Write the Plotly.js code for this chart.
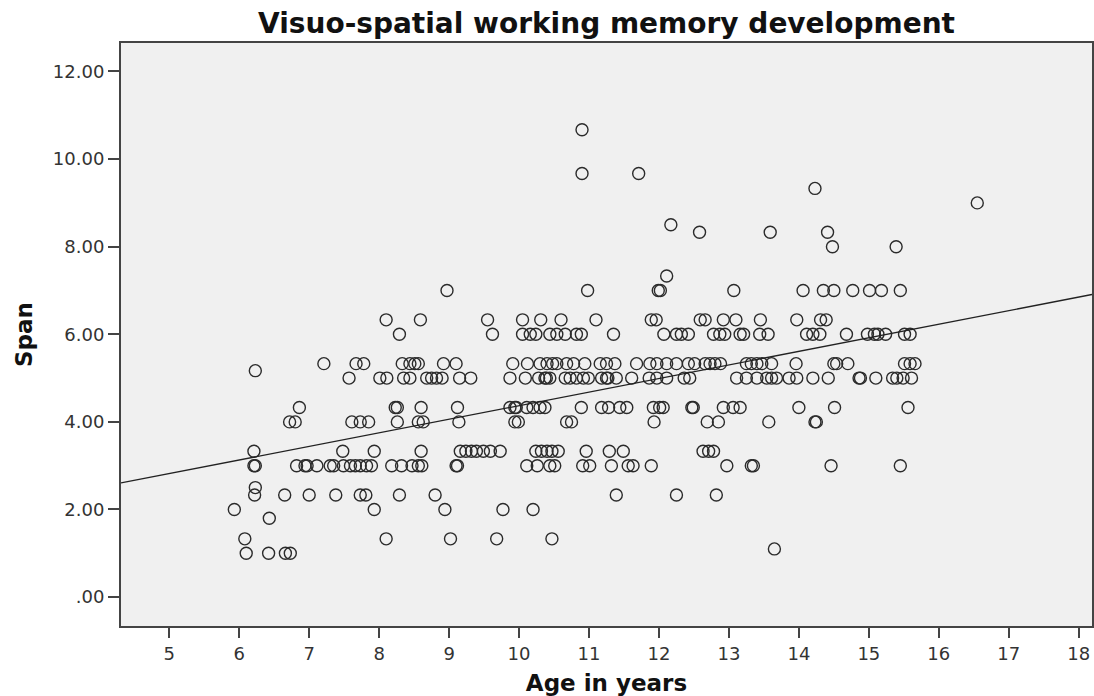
<!DOCTYPE html>
<html>
<head>
<meta charset="utf-8">
<script src="https://cdn.plot.ly/plotly-3.0.1.min.js"></script>
<style>
  html, body { margin: 0; padding: 0; background: #ffffff; }
  #chart { width: 1094px; height: 696px; }
</style>
</head>
<body>
<div id="chart"></div>
<script>
// Span levels (y) and the ages (x) of the children observed at each level
const spanLevels = [10.67, 9.67, 9.33, 9.00, 8.50, 8.33, 8.00, 7.33, 7.00, 6.33, 6.00, 5.33, 5.17, 5.00, 4.33, 4.00, 3.33, 3.00, 2.50, 2.33, 2.00, 1.80, 1.33, 1.10, 1.00];
const ageRows = [
  [10.90],
  [10.90, 11.71],
  [14.23],
  [16.55],
  [12.17],
  [12.58, 13.59, 14.41],
  [14.48, 15.39],
  [12.11],
  [8.97, 10.98, 11.99, 12.02, 13.07, 14.06, 14.35, 14.50, 14.77, 15.01, 15.18, 15.45],
  [8.10, 8.59, 9.55, 10.05, 10.31, 10.60, 11.10, 11.89, 11.96, 12.59, 12.66, 12.92, 13.10, 13.45, 13.97, 14.31, 14.39],
  [8.29, 9.62, 10.05, 10.16, 10.24, 10.44, 10.54, 10.66, 10.82, 10.89, 11.35, 12.07, 12.25, 12.32, 12.42, 12.78, 12.87, 12.94, 13.16, 13.21, 13.44, 13.56, 14.11, 14.20, 14.30, 14.68, 14.98, 15.08, 15.13, 15.24, 15.51, 15.59],
  [7.21, 7.67, 7.78, 8.33, 8.44, 8.51, 8.56, 8.92, 9.10, 9.91, 10.12, 10.30, 10.40, 10.48, 10.54, 10.68, 10.78, 10.94, 11.16, 11.25, 11.37, 11.68, 11.87, 11.97, 12.11, 12.25, 12.42, 12.51, 12.66, 12.73, 12.80, 12.88, 13.25, 13.32, 13.40, 13.47, 13.61, 13.96, 14.50, 14.54, 14.70, 15.51, 15.59, 15.66],
  [6.23],
  [7.57, 8.01, 8.11, 8.35, 8.44, 8.68, 8.75, 8.82, 8.90, 9.15, 9.31, 9.87, 10.09, 10.28, 10.37, 10.39, 10.44, 10.66, 10.73, 10.82, 10.92, 10.99, 11.18, 11.25, 11.27, 11.39, 11.61, 11.86, 11.97, 12.11, 12.36, 12.44, 13.11, 13.25, 13.40, 13.54, 13.61, 13.68, 13.86, 13.97, 14.20, 14.42, 14.86, 14.88, 15.10, 15.34, 15.40, 15.49, 15.61],
  [6.86, 8.23, 8.26, 8.60, 9.12, 9.87, 9.94, 9.96, 10.11, 10.20, 10.30, 10.37, 10.89, 11.18, 11.28, 11.44, 11.54, 11.92, 12.01, 12.06, 12.47, 12.49, 12.92, 13.06, 13.16, 14.00, 14.51, 15.56],
  [6.72, 6.80, 7.61, 7.73, 7.85, 8.26, 8.56, 8.63, 9.14, 9.94, 9.99, 10.68, 10.75, 11.93, 12.69, 12.85, 13.57, 14.23, 14.25],
  [6.21, 7.48, 7.93, 8.60, 9.16, 9.24, 9.32, 9.39, 9.49, 9.59, 9.73, 10.24, 10.32, 10.40, 10.47, 10.56, 10.96, 11.29, 11.49, 12.63, 12.71, 12.78],
  [6.21, 6.23, 6.82, 6.94, 6.97, 7.11, 7.30, 7.35, 7.49, 7.59, 7.66, 7.73, 7.82, 7.89, 8.18, 8.32, 8.47, 8.56, 8.61, 9.10, 9.12, 10.11, 10.26, 10.44, 10.51, 10.91, 11.01, 11.32, 11.56, 11.63, 11.89, 12.97, 13.32, 13.35, 14.46, 15.45],
  [6.23],
  [6.22, 6.65, 7.00, 7.38, 7.73, 7.81, 8.29, 8.80, 11.39, 12.25, 12.82],
  [5.93, 7.93, 8.94, 9.77, 10.20],
  [6.43],
  [6.08, 8.10, 9.02, 9.68, 10.47],
  [13.65],
  [6.10, 6.42, 6.66, 6.73]
];

// Linear fit line
const fitIntercept = 1.27;
const fitSlope = 0.31;

// Axes
const xRange = [4.31, 18.19];
const yRange = [-0.66, 12.65];
const xTickVals = [5, 6, 7, 8, 9, 10, 11, 12, 13, 14, 15, 16, 17, 18];
const yTickVals = [0, 2, 4, 6, 8, 10, 12];
const yTickText = ['.00', '2.00', '4.00', '6.00', '8.00', '10.00', '12.00'];

const ages = [];
const spans = [];
ageRows.forEach((row, i) => {
  row.forEach(a => { ages.push(a); spans.push(spanLevels[i]); });
});

const FONT = '"DejaVu Sans", "Liberation Sans", sans-serif';
const AXIS_COLOR = '#444444';

const scatter = {
  type: 'scatter',
  mode: 'markers',
  x: ages,
  y: spans,
  marker: {
    symbol: 'circle-open',
    size: 12,
    color: '#2b2b2b',
    line: { width: 1.4, color: '#2b2b2b' }
  },
  hoverinfo: 'x+y',
  showlegend: false
};

const fit = {
  type: 'scatter',
  mode: 'lines',
  x: xRange,
  y: xRange.map(x => fitIntercept + fitSlope * x),
  line: { color: '#222222', width: 1.3 },
  hoverinfo: 'skip',
  showlegend: false
};

const layout = {
  width: 1094,
  height: 696,
  paper_bgcolor: '#ffffff',
  plot_bgcolor: '#f0f0f0',
  margin: { l: 121, r: 2, t: 43, b: 70, pad: 0 },
  font: { family: FONT, color: '#333333', size: 18 },
  title: {
    text: '<b>Visuo-spatial working memory development</b>',
    font: { family: FONT, size: 28, color: '#111111' },
    x: 0.5, xref: 'paper', xanchor: 'center',
    y: 1 - 23 / 696, yref: 'container', yanchor: 'middle'
  },
  xaxis: {
    range: xRange,
    tickmode: 'array',
    tickvals: xTickVals,
    ticks: 'outside',
    ticklen: 10,
    tickwidth: 2,
    tickcolor: AXIS_COLOR,
    tickfont: { family: FONT, size: 18, color: '#333333' },
    showline: true,
    mirror: true,
    linecolor: AXIS_COLOR,
    linewidth: 2,
    showgrid: false,
    zeroline: false,
    title: {
      text: '<b>Age in years</b>',
      font: { family: FONT, size: 23, color: '#111111' },
      standoff: 12
    }
  },
  yaxis: {
    range: yRange,
    tickmode: 'array',
    tickvals: yTickVals,
    ticktext: yTickText,
    ticks: 'outside',
    ticklen: 11,
    tickwidth: 2,
    tickcolor: AXIS_COLOR,
    tickfont: { family: FONT, size: 18, color: '#333333' },
    showline: true,
    mirror: true,
    linecolor: AXIS_COLOR,
    linewidth: 2,
    showgrid: false,
    zeroline: false,
    title: {
      text: '<b>Span</b>',
      font: { family: FONT, size: 23, color: '#111111' },
      standoff: 14
    }
  }
};

Plotly.newPlot('chart', [scatter, fit], layout, { displayModeBar: false, staticPlot: true });
</script>
</body>
</html>
